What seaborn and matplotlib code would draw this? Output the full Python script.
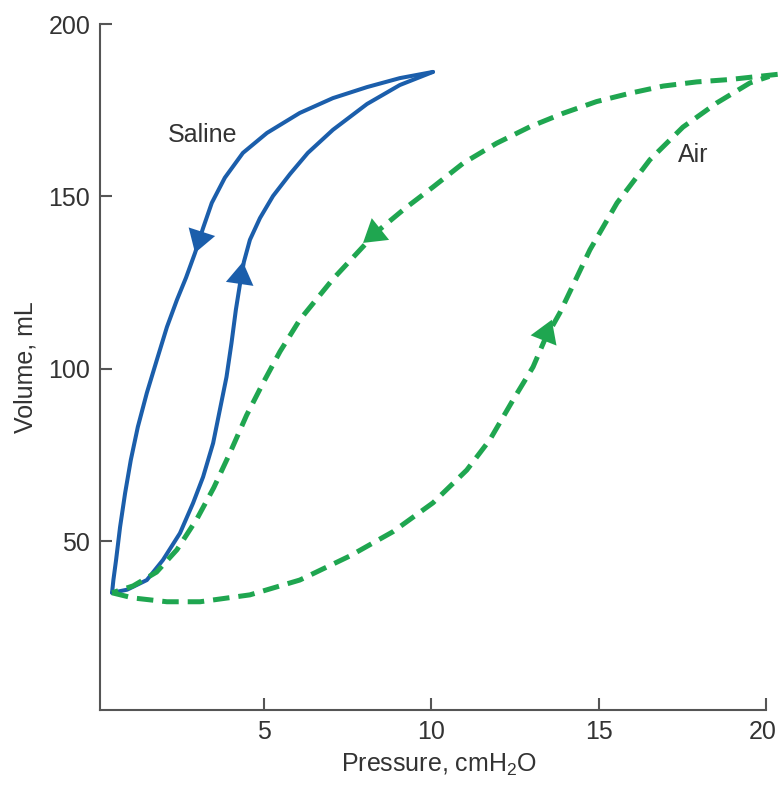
import matplotlib
matplotlib.use("Agg")
import matplotlib.pyplot as plt
import matplotlib.transforms as mtransforms
import seaborn as sns
import pandas as pd

# ---- data (pressure cmH2O, volume mL) ----
saline_infl_p = [0.46, 0.91, 1.50, 1.98, 2.49, 2.88, 3.18, 3.48, 3.68, 3.88, 4.03, 4.16, 4.28, 4.40, 4.58,
                 4.88, 5.27, 5.78, 6.31, 7.06, 8.08, 9.06, 10.05]
saline_infl_v = [35.0, 35.9, 38.7, 44.5, 52.3, 61.0, 68.6, 78.4, 88.0, 97.6, 107.5, 117.1, 124.4, 131.0, 137.4,
                 143.7, 150.1, 156.5, 162.6, 169.3, 176.8, 182.3, 186.1]

saline_defl_p = [10.05, 9.06, 8.08, 7.06, 6.07, 5.09, 4.37, 3.83, 3.44, 3.18, 2.94, 2.67, 2.40, 2.10, 1.80,
                 1.50, 1.23, 1.02, 0.85, 0.70, 0.58, 0.50, 0.46]
saline_defl_v = [186.1, 184.3, 181.7, 178.5, 174.2, 168.4, 162.6, 155.4, 148.1, 140.8, 133.6, 126.4, 120.0, 112.1, 102.6,
                 93.0, 83.1, 73.5, 63.9, 54.1, 44.5, 38.7, 35.0]

air_infl_p = [0.46, 1.09, 2.10, 3.09, 4.58, 6.07, 7.57, 8.85, 10.05, 11.06, 11.75, 12.44, 13.04, 13.39, 13.84,
              14.74, 15.55, 16.53, 17.52, 18.53, 19.52, 20.10]
air_infl_v = [35.0, 33.5, 32.4, 32.4, 34.4, 38.7, 45.7, 52.7, 61.1, 70.6, 79.4, 90.9, 100.5, 108.4, 116.2,
              134.5, 148.1, 160.6, 170.1, 177.1, 182.9, 184.8]

air_defl_p = [20.35, 18.92, 17.93, 16.93, 15.93, 14.94, 13.94, 12.95, 11.95, 10.95, 10.05, 9.20, 8.37, 7.06,
              6.07, 5.48, 4.98, 4.48, 3.98, 3.50, 3.00, 2.40, 1.79, 1.09, 0.46]
air_defl_v = [185.4, 183.9, 183.2, 182.0, 179.9, 177.5, 174.1, 170.2, 165.4, 159.6, 152.7, 146.4, 139.7, 126.0,
              114.2, 105.0, 96.0, 86.5, 75.5, 65.5, 56.5, 47.5, 41.0, 37.0, 35.0]

# arrow heads: (tip, point behind along the curve)
saline_arrows = [((2.94, 133.6), (3.18, 140.8)), ((4.37, 131.0), (4.16, 117.1))]
air_arrows = [((7.96, 136.5), (10.05, 152.7)), ((13.60, 114.2), (13.04, 100.5))]

x_ticks = [5, 10, 15, 20]
y_ticks = [50, 100, 150, 200]

BLUE = "#1B5EAB"
GREEN = "#1FA650"
TXT = "#333333"
AXC = "#555555"

sns.set_theme(style="ticks")
plt.rcParams['font.family'] = ['Liberation Sans', 'DejaVu Sans']
plt.rcParams['mathtext.fontset'] = 'custom'
plt.rcParams['mathtext.rm'] = 'Liberation Sans'
plt.rcParams['mathtext.it'] = 'Liberation Sans:italic'

fig = plt.figure(figsize=(7.78, 7.85), dpi=100)
ax = fig.add_axes([100 / 778, 75 / 785, 678 / 778, 686 / 785])


def draw(p, v, color, lw, dashed=False):
    df = pd.DataFrame({"p": p, "v": v})
    sns.lineplot(data=df, x="p", y="v", sort=False, estimator=None, ax=ax,
                 color=color, linewidth=lw, solid_joinstyle="round", solid_capstyle="round")
    line = ax.lines[-1]
    if dashed:
        line.set_dashes([3.3, 1.8])
        line.set_dash_capstyle("butt")


draw(saline_infl_p, saline_infl_v, BLUE, 2.9)
draw(saline_defl_p, saline_defl_v, BLUE, 2.9)
draw(air_infl_p, air_infl_v, GREEN, 3.6, dashed=True)
draw(air_defl_p, air_defl_v, GREEN, 3.6, dashed=True)

for arrows, col in [(saline_arrows, BLUE), (air_arrows, GREEN)]:
    for tip, base in arrows:
        ax.annotate("", xy=tip, xytext=base,
                    arrowprops=dict(arrowstyle="-|>,head_length=0.8,head_width=0.5",
                                    color=col, lw=0.01, shrinkA=0, shrinkB=0,
                                    mutation_scale=20))

ax.text(3.17, 167.8, "Saline", fontsize=18, color=TXT, ha="center", va="center")
ax.text(17.82, 162.0, "Air", fontsize=18, color=TXT, ha="center", va="center")

ax.set_xlim(0.1, 20.36)
ax.set_ylim(1, 200)
ax.set_xticks(x_ticks)
ax.set_yticks(y_ticks)
ax.set_xticklabels([str(t) for t in x_ticks])
ax.set_yticklabels([str(t) for t in y_ticks])
ax.set_xlabel(r"Pressure, cmH$_2$O", fontsize=18, color=TXT, labelpad=6)
ax.set_ylabel("Volume, mL", fontsize=18, color=TXT, labelpad=8)

sns.despine(ax=ax)
ax.spines["bottom"].set_bounds(0.1, 20)
for s in ["left", "bottom"]:
    ax.spines[s].set_color(AXC)
    ax.spines[s].set_linewidth(1.5)
ax.tick_params(axis="both", direction="in", length=8.5, width=1.5, color=AXC,
               labelsize=18, labelcolor=TXT, pad=7)
ax.grid(False)

# nudge the last x tick label slightly left so it stays inside the canvas
last = ax.get_xticklabels()[-1]
last.set_transform(last.get_transform() + mtransforms.ScaledTranslation(-3 / 100, 0, fig.dpi_scale_trans))

fig.savefig("out.png", dpi=100)
